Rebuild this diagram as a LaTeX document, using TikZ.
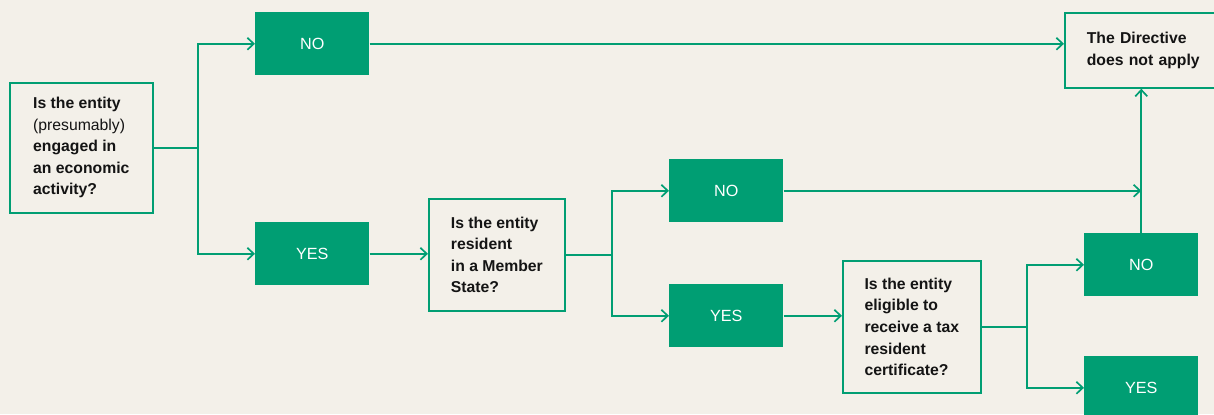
\documentclass[tikz,border=0pt]{standalone}
\usepackage{fontspec}
\setmainfont{Liberation Sans}
\usetikzlibrary{arrows.meta}
\definecolor{paper}{HTML}{F3F0E9}
\definecolor{leaf}{HTML}{009E73}
\definecolor{ink}{HTML}{141414}

\begin{document}
\begin{tikzpicture}[x=0.025cm, y=-0.025cm,
    question/.style={draw=leaf, line width=1.2pt, fill=paper, anchor=north west, align=left, text=ink,
        font=\fontsize{11.2}{15.3}\selectfont\bfseries, inner sep=0pt},
    answer/.style={fill=leaf, anchor=north west, text=white, font=\fontsize{11.5}{14}\selectfont,
        minimum width=2.85cm, minimum height=1.575cm, inner sep=0pt},
    link/.style={leaf, line width=1.2pt},
    arr/.style={link, -{Straight Barb[length=0.16cm, width=0.3cm]}}]
    % page
    \clip (0,0) rectangle (1214,414);
    \fill[paper] (0,0) rectangle (1214,414);

    % questions
    \node[question, minimum width=3.575cm, minimum height=3.25cm] (q1) at (9,82)
        {Is the entity\\ {\mdseries (presumably)}\\ engaged in\\ an economic\\ activity?};
    \node[question, minimum width=3.4cm, minimum height=2.8cm] (q2) at (428,198)
        {Is the entity\\ resident\\ in a Member\\ State?};
    \node[question, minimum width=3.45cm, minimum height=3.3cm] (q3) at (842,260)
        {Is the entity\\ eligible to\\ receive a tax\\ resident\\ certificate?};
    \node[question, inner xsep=0.55cm, text width=3.15cm, minimum height=1.875cm] (dir) at (1064,12)
        {The Directive\\ does not apply};

    % answers
    \node[answer] (no1) at (255,12) {NO};
    \node[answer] (yes1) at (255,222) {YES};
    \node[answer] (no2) at (669,159) {NO};
    \node[answer] (yes2) at (669,284) {YES};
    \node[answer] (no3) at (1084,233) {NO};
    \node[answer] (yes3) at (1084,356) {YES};

    % first split
    \draw[link] (q1.east) -- ++(44,0) coordinate (j1);
    \draw[arr] (j1) |- (no1.west);
    \draw[arr] (j1) |- (yes1.west);
    \draw[arr] (yes1.east) -- (yes1.east -| q2.west);

    % second split
    \draw[link] (q2.east) -- ++(46,0) coordinate (j2);
    \draw[arr] (j2) |- (no2.west);
    \draw[arr] (j2) |- (yes2.west);
    \draw[arr] (yes2.east) -- (yes2.east -| q3.west);

    % third split
    \draw[link] (q3.east) -- ++(45,0) coordinate (j3);
    \draw[arr] (j3) |- (no3.west);
    \draw[arr] (j3) |- (yes3.west);

    % to the directive
    \draw[arr] (no1.east) -- (no1.east -| dir.west);
    \draw[arr] (no2.east) -- (no2.east -| no3.north);
    \draw[arr] (no3.north) -- (no3.north |- dir.south);
\end{tikzpicture}
\end{document}
